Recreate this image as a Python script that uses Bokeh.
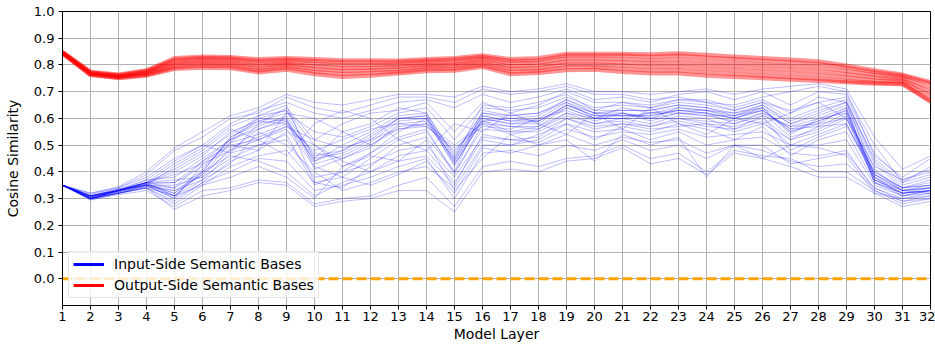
from bokeh.plotting import figure
from bokeh.models import FixedTicker, Legend, LegendItem, Range1d, NumeralTickFormatter
from bokeh.embed import file_html
from bokeh.resources import INLINE

# ---------------- data ----------------
layers = list(range(1, 33))
y_ticks = [0.0, 0.1, 0.2, 0.3, 0.4, 0.5, 0.6, 0.7, 0.8, 0.9, 1.0]
zero_line = [0.0] * 32

in_01 = [0.35, 0.305, 0.33, 0.355, 0.32, 0.41, 0.52, 0.56,
         0.59, 0.45, 0.47, 0.52, 0.60, 0.60, 0.44, 0.60,
         0.58, 0.58, 0.65, 0.61, 0.61, 0.61, 0.63, 0.62,
         0.60, 0.63, 0.56, 0.59, 0.63, 0.38, 0.33, 0.34]
in_02 = [0.35, 0.30, 0.33, 0.36, 0.31, 0.40, 0.53, 0.58,
         0.60, 0.44, 0.50, 0.55, 0.61, 0.62, 0.45, 0.61,
         0.59, 0.60, 0.66, 0.62, 0.62, 0.60, 0.64, 0.63,
         0.61, 0.64, 0.55, 0.58, 0.64, 0.36, 0.32, 0.33]
in_03 = [0.35, 0.31, 0.335, 0.35, 0.30, 0.43, 0.51, 0.54,
         0.58, 0.47, 0.45, 0.49, 0.58, 0.59, 0.43, 0.59,
         0.57, 0.57, 0.64, 0.60, 0.60, 0.62, 0.62, 0.61,
         0.59, 0.62, 0.57, 0.60, 0.62, 0.39, 0.34, 0.35]
in_04 = [0.35, 0.31, 0.33, 0.37, 0.38, 0.45, 0.52, 0.61,
         0.63, 0.50, 0.42, 0.47, 0.55, 0.60, 0.47, 0.62,
         0.60, 0.61, 0.67, 0.63, 0.63, 0.63, 0.65, 0.64,
         0.62, 0.65, 0.58, 0.61, 0.65, 0.41, 0.33, 0.32]
in_05 = [0.35, 0.315, 0.34, 0.38, 0.45, 0.50, 0.58, 0.63,
         0.66, 0.62, 0.60, 0.63, 0.66, 0.67, 0.64, 0.69,
         0.66, 0.68, 0.71, 0.67, 0.68, 0.66, 0.69, 0.70,
         0.67, 0.70, 0.65, 0.70, 0.69, 0.50, 0.36, 0.42]
in_06 = [0.35, 0.32, 0.34, 0.39, 0.48, 0.53, 0.60, 0.62,
         0.68, 0.64, 0.62, 0.65, 0.68, 0.68, 0.66, 0.71,
         0.69, 0.70, 0.72, 0.69, 0.69, 0.67, 0.68, 0.66,
         0.65, 0.68, 0.70, 0.72, 0.70, 0.46, 0.38, 0.45]
in_07 = [0.35, 0.295, 0.315, 0.33, 0.27, 0.33, 0.34, 0.37,
         0.36, 0.28, 0.30, 0.31, 0.35, 0.38, 0.27, 0.42,
         0.44, 0.42, 0.45, 0.46, 0.50, 0.45, 0.47, 0.40,
         0.48, 0.46, 0.45, 0.40, 0.40, 0.33, 0.28, 0.30]
in_08 = [0.35, 0.30, 0.32, 0.34, 0.29, 0.36, 0.40, 0.45,
         0.44, 0.33, 0.35, 0.38, 0.42, 0.45, 0.30, 0.47,
         0.48, 0.46, 0.50, 0.48, 0.52, 0.48, 0.50, 0.45,
         0.50, 0.48, 0.44, 0.42, 0.43, 0.34, 0.30, 0.31]
in_09 = [0.35, 0.305, 0.325, 0.35, 0.35, 0.38, 0.45, 0.50,
         0.52, 0.38, 0.40, 0.43, 0.48, 0.50, 0.38, 0.53,
         0.52, 0.51, 0.56, 0.53, 0.55, 0.54, 0.56, 0.53,
         0.54, 0.55, 0.50, 0.50, 0.52, 0.35, 0.31, 0.33]
in_10 = [0.35, 0.31, 0.33, 0.36, 0.40, 0.46, 0.55, 0.59,
         0.62, 0.55, 0.53, 0.57, 0.62, 0.64, 0.52, 0.64,
         0.63, 0.64, 0.68, 0.64, 0.65, 0.64, 0.66, 0.65,
         0.63, 0.66, 0.60, 0.64, 0.67, 0.44, 0.35, 0.38]
in_11 = [0.35, 0.30, 0.32, 0.345, 0.33, 0.39, 0.48, 0.52,
         0.56, 0.42, 0.38, 0.45, 0.52, 0.55, 0.40, 0.56,
         0.55, 0.55, 0.60, 0.57, 0.58, 0.57, 0.60, 0.58,
         0.57, 0.60, 0.52, 0.55, 0.60, 0.37, 0.32, 0.33]
in_12 = [0.35, 0.31, 0.33, 0.36, 0.36, 0.42, 0.50, 0.48,
         0.62, 0.60, 0.55, 0.50, 0.57, 0.58, 0.50, 0.58,
         0.54, 0.56, 0.62, 0.58, 0.60, 0.58, 0.61, 0.60,
         0.56, 0.61, 0.48, 0.53, 0.57, 0.40, 0.34, 0.36]
in_13 = [0.35, 0.30, 0.325, 0.345, 0.31, 0.37, 0.43, 0.55,
         0.50, 0.40, 0.33, 0.36, 0.40, 0.42, 0.34, 0.50,
         0.50, 0.52, 0.58, 0.55, 0.56, 0.52, 0.55, 0.50,
         0.52, 0.53, 0.47, 0.46, 0.48, 0.33, 0.29, 0.31]
in_14 = [0.35, 0.31, 0.33, 0.36, 0.34, 0.44, 0.52, 0.57,
         0.61, 0.46, 0.48, 0.53, 0.60, 0.61, 0.44, 0.61,
         0.59, 0.59, 0.65, 0.61, 0.61, 0.61, 0.63, 0.62,
         0.60, 0.63, 0.55, 0.59, 0.63, 0.37, 0.33, 0.34]
in_15 = [0.35, 0.30, 0.33, 0.355, 0.31, 0.40, 0.53, 0.59,
         0.58, 0.43, 0.46, 0.51, 0.59, 0.60, 0.42, 0.60,
         0.58, 0.59, 0.64, 0.60, 0.62, 0.60, 0.62, 0.61,
         0.61, 0.63, 0.56, 0.57, 0.62, 0.36, 0.32, 0.34]
in_16 = [0.35, 0.305, 0.33, 0.35, 0.42, 0.48, 0.56, 0.52,
         0.46, 0.58, 0.63, 0.60, 0.52, 0.48, 0.58, 0.55,
         0.62, 0.58, 0.54, 0.62, 0.56, 0.64, 0.58, 0.54,
         0.60, 0.58, 0.62, 0.66, 0.60, 0.42, 0.37, 0.40]
in_17 = [0.35, 0.30, 0.32, 0.34, 0.28, 0.35, 0.38, 0.42,
         0.38, 0.30, 0.42, 0.46, 0.44, 0.52, 0.33, 0.45,
         0.54, 0.50, 0.52, 0.44, 0.54, 0.50, 0.53, 0.38,
         0.50, 0.45, 0.50, 0.49, 0.46, 0.32, 0.30, 0.32]
in_18 = [0.35, 0.31, 0.335, 0.37, 0.44, 0.50, 0.47, 0.58,
         0.64, 0.52, 0.58, 0.62, 0.63, 0.66, 0.55, 0.66,
         0.62, 0.65, 0.70, 0.66, 0.66, 0.65, 0.67, 0.67,
         0.64, 0.67, 0.62, 0.68, 0.66, 0.45, 0.36, 0.39]
in_19 = [0.35, 0.30, 0.33, 0.35, 0.32, 0.39, 0.51, 0.60,
         0.59, 0.44, 0.48, 0.54, 0.60, 0.61, 0.43, 0.59,
         0.60, 0.59, 0.65, 0.62, 0.61, 0.62, 0.63, 0.63,
         0.60, 0.64, 0.54, 0.60, 0.64, 0.38, 0.32, 0.33]
in_20 = [0.35, 0.305, 0.33, 0.36, 0.37, 0.38, 0.49, 0.53,
         0.57, 0.48, 0.52, 0.56, 0.58, 0.57, 0.49, 0.57,
         0.56, 0.60, 0.63, 0.59, 0.62, 0.59, 0.62, 0.62,
         0.58, 0.62, 0.53, 0.56, 0.61, 0.40, 0.34, 0.35]
in_21 = [0.35, 0.295, 0.32, 0.34, 0.26, 0.31, 0.33, 0.36,
         0.35, 0.27, 0.29, 0.30, 0.33, 0.33, 0.25, 0.40,
         0.41, 0.40, 0.44, 0.45, 0.49, 0.43, 0.45, 0.39,
         0.47, 0.45, 0.42, 0.38, 0.38, 0.32, 0.27, 0.29]
in_22 = [0.35, 0.32, 0.345, 0.40, 0.49, 0.55, 0.61, 0.64,
         0.69, 0.66, 0.65, 0.67, 0.69, 0.69, 0.68, 0.72,
         0.70, 0.71, 0.73, 0.70, 0.70, 0.69, 0.70, 0.71,
         0.69, 0.71, 0.72, 0.73, 0.71, 0.53, 0.41, 0.46]
in_23 = [0.35, 0.30, 0.33, 0.35, 0.34, 0.40, 0.46, 0.44,
         0.40, 0.31, 0.36, 0.40, 0.46, 0.48, 0.36, 0.52,
         0.50, 0.54, 0.58, 0.52, 0.57, 0.55, 0.58, 0.56,
         0.52, 0.57, 0.46, 0.52, 0.55, 0.36, 0.31, 0.32]
in_24 = [0.35, 0.31, 0.33, 0.36, 0.39, 0.43, 0.48, 0.56,
         0.60, 0.36, 0.34, 0.42, 0.50, 0.53, 0.40, 0.63,
         0.61, 0.62, 0.66, 0.60, 0.64, 0.62, 0.64, 0.63,
         0.62, 0.64, 0.58, 0.62, 0.66, 0.39, 0.33, 0.34]
in_25 = [0.35, 0.30, 0.32, 0.35, 0.30, 0.36, 0.44, 0.48,
         0.55, 0.50, 0.44, 0.40, 0.44, 0.46, 0.35, 0.54,
         0.52, 0.53, 0.60, 0.56, 0.58, 0.56, 0.57, 0.58,
         0.55, 0.58, 0.52, 0.57, 0.58, 0.38, 0.31, 0.33]
in_26 = [0.35, 0.31, 0.335, 0.36, 0.41, 0.47, 0.54, 0.60,
         0.63, 0.45, 0.55, 0.58, 0.64, 0.62, 0.46, 0.62,
         0.61, 0.62, 0.67, 0.62, 0.63, 0.63, 0.65, 0.64,
         0.61, 0.65, 0.59, 0.63, 0.66, 0.43, 0.34, 0.37]
in_27 = [0.35, 0.30, 0.325, 0.35, 0.33, 0.37, 0.47, 0.50,
         0.54, 0.35, 0.40, 0.47, 0.53, 0.56, 0.39, 0.58,
         0.57, 0.56, 0.61, 0.58, 0.59, 0.57, 0.59, 0.57,
         0.56, 0.59, 0.50, 0.54, 0.58, 0.37, 0.32, 0.33]
in_28 = [0.35, 0.31, 0.33, 0.36, 0.43, 0.49, 0.57, 0.61,
         0.65, 0.41, 0.45, 0.50, 0.56, 0.58, 0.45, 0.65,
         0.64, 0.66, 0.69, 0.63, 0.66, 0.64, 0.67, 0.66,
         0.63, 0.66, 0.63, 0.66, 0.68, 0.47, 0.37, 0.41]
in_29 = [0.35, 0.30, 0.32, 0.34, 0.31, 0.35, 0.42, 0.46,
         0.48, 0.36, 0.38, 0.35, 0.39, 0.44, 0.32, 0.49,
         0.47, 0.50, 0.54, 0.50, 0.53, 0.51, 0.52, 0.47,
         0.50, 0.50, 0.43, 0.45, 0.47, 0.34, 0.29, 0.30]
in_30 = [0.35, 0.305, 0.33, 0.355, 0.36, 0.44, 0.50, 0.52,
         0.57, 0.52, 0.49, 0.52, 0.56, 0.57, 0.48, 0.59,
         0.55, 0.57, 0.62, 0.60, 0.60, 0.60, 0.60, 0.59,
         0.58, 0.61, 0.57, 0.58, 0.60, 0.39, 0.33, 0.35]

out_a = [0.848, 0.773, 0.762, 0.778, 0.820, 0.827, 0.825, 0.815,
         0.820, 0.815, 0.810, 0.810, 0.811, 0.816, 0.820, 0.831,
         0.815, 0.818, 0.835, 0.835, 0.835, 0.831, 0.835, 0.828,
         0.822, 0.816, 0.810, 0.804, 0.790, 0.773, 0.760, 0.730]
out_b = [0.846, 0.770, 0.760, 0.774, 0.812, 0.820, 0.818, 0.806,
         0.812, 0.805, 0.799, 0.800, 0.802, 0.808, 0.811, 0.823,
         0.805, 0.808, 0.824, 0.824, 0.822, 0.818, 0.821, 0.814,
         0.808, 0.802, 0.796, 0.790, 0.777, 0.763, 0.752, 0.714]
out_c = [0.845, 0.768, 0.757, 0.770, 0.805, 0.812, 0.810, 0.797,
         0.805, 0.795, 0.788, 0.790, 0.793, 0.800, 0.803, 0.815,
         0.795, 0.798, 0.813, 0.813, 0.810, 0.805, 0.807, 0.800,
         0.794, 0.788, 0.782, 0.776, 0.765, 0.753, 0.745, 0.698]
out_d = [0.844, 0.766, 0.755, 0.766, 0.798, 0.805, 0.803, 0.788,
         0.798, 0.785, 0.777, 0.780, 0.784, 0.792, 0.795, 0.807,
         0.785, 0.788, 0.802, 0.802, 0.798, 0.792, 0.793, 0.786,
         0.780, 0.774, 0.768, 0.762, 0.753, 0.743, 0.738, 0.682]
out_e = [0.842, 0.763, 0.752, 0.762, 0.790, 0.797, 0.795, 0.779,
         0.790, 0.775, 0.766, 0.770, 0.775, 0.784, 0.786, 0.799,
         0.775, 0.778, 0.791, 0.791, 0.785, 0.779, 0.779, 0.772,
         0.766, 0.760, 0.754, 0.748, 0.740, 0.733, 0.730, 0.666]
out_f = [0.843, 0.762, 0.750, 0.760, 0.785, 0.790, 0.788, 0.772,
         0.782, 0.765, 0.755, 0.760, 0.768, 0.776, 0.778, 0.792,
         0.765, 0.770, 0.780, 0.782, 0.774, 0.768, 0.768, 0.760,
         0.755, 0.750, 0.745, 0.740, 0.735, 0.730, 0.728, 0.662]
out_g = [0.849, 0.775, 0.764, 0.780, 0.826, 0.832, 0.830, 0.822,
         0.826, 0.822, 0.818, 0.818, 0.817, 0.822, 0.826, 0.836,
         0.822, 0.826, 0.842, 0.842, 0.842, 0.840, 0.844, 0.838,
         0.832, 0.826, 0.820, 0.814, 0.798, 0.780, 0.764, 0.736]

input_side = [in_01, in_02, in_03, in_04, in_05, in_06, in_07, in_08, in_09,
              in_10, in_11, in_12, in_13, in_14, in_15, in_16, in_17, in_18,
              in_19, in_20, in_21, in_22, in_23, in_24, in_25, in_26,
              in_27, in_28, in_29, in_30]
output_side = [out_a, out_b, out_c, out_d, out_e, out_f, out_g]

label_in = "Input-Side Semantic Bases"
label_out = "Output-Side Semantic Bases"
legend_proxy_x = [1]
legend_proxy_y = [float("nan")]

FONT = "DejaVu Sans"

# ---------------- figure ----------------
p = figure(width=935, height=345,
           x_range=Range1d(1, 32), y_range=Range1d(-0.1, 1.0),
           output_backend="svg", toolbar_location=None,
           min_border_left=62, min_border_right=5,
           min_border_top=11, min_border_bottom=40)

p.background_fill_color = "white"
p.border_fill_color = "white"
p.outline_line_color = "black"
p.outline_line_width = 1
p.outline_line_alpha = 1

# grid
p.xaxis.ticker = FixedTicker(ticks=layers)
p.yaxis.ticker = FixedTicker(ticks=y_ticks)
p.grid.grid_line_color = "#b0b0b0"
p.grid.grid_line_width = 1
p.grid.grid_line_alpha = 1

# lines
p.multi_line(xs=[layers] * len(input_side), ys=input_side,
             line_color="blue", line_alpha=0.26, line_width=1)
p.multi_line(xs=[layers] * len(output_side), ys=output_side,
             line_color="red", line_alpha=0.42, line_width=4)
p.line(layers, zero_line, line_color="orange", line_width=3, line_dash="10 4")

# legend proxies
r_in = p.line(legend_proxy_x, legend_proxy_y, line_color="blue", line_width=3)
r_out = p.line(legend_proxy_x, legend_proxy_y, line_color="red", line_width=3)

legend = Legend(items=[LegendItem(label=label_in, renderers=[r_in]),
                       LegendItem(label=label_out, renderers=[r_out])],
                location=(6, 7))
legend.label_text_font = FONT
legend.label_text_font_size = "14px"
legend.label_text_color = "black"
legend.glyph_width = 31
legend.glyph_height = 16
legend.label_standoff = 10
legend.label_height = 16
legend.spacing = 5
legend.padding = 4
legend.margin = 0
legend.border_line_color = "#cccccc"
legend.border_line_width = 1
legend.background_fill_color = "white"
legend.background_fill_alpha = 0.8
p.add_layout(legend)

# axes
for ax in (p.xaxis, p.yaxis):
    ax.axis_line_color = "black"
    ax.major_tick_line_color = "black"
    ax.major_tick_out = 4
    ax.major_tick_in = 0
    ax.minor_tick_out = 0
    ax.minor_tick_in = 0
    ax.major_label_text_font = FONT
    ax.major_label_text_font_size = "13px"
    ax.major_label_text_color = "black"
    ax.axis_label_text_font = FONT
    ax.axis_label_text_font_size = "14px"
    ax.axis_label_text_font_style = "normal"
    ax.axis_label_text_color = "black"

p.xaxis.axis_label = "Model Layer"
p.yaxis.axis_label = "Cosine Similarity"
p.yaxis.formatter = NumeralTickFormatter(format="0.0")
p.xaxis.major_label_standoff = 2
p.xaxis.axis_label_standoff = 2
p.yaxis.major_label_standoff = 4
p.yaxis.axis_label_standoff = 10

open("out.html", "w").write(file_html(p, INLINE))
